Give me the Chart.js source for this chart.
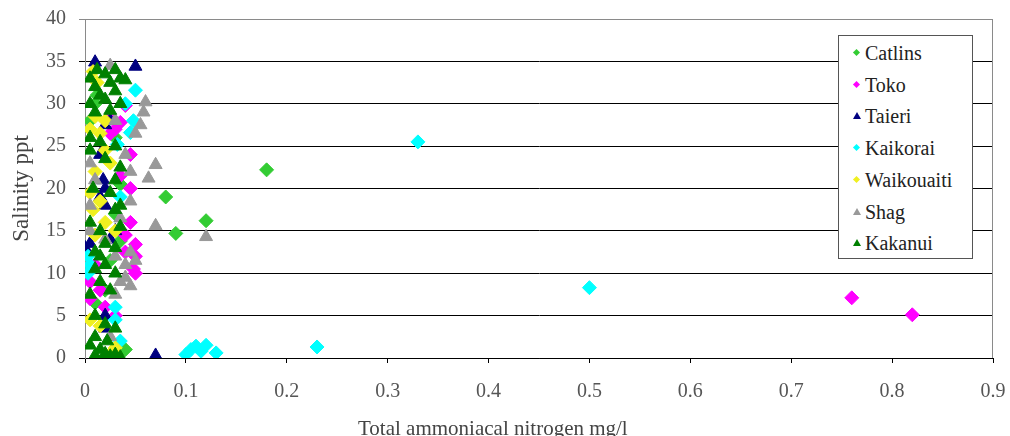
<!DOCTYPE html>
<html>
<head>
<meta charset="utf-8">
<script src="https://cdn.jsdelivr.net/npm/chart.js@4/dist/chart.umd.min.js"></script>
<style>
  body { margin: 0; background: #fff; }
  #wrap { position: relative; width: 1010px; height: 436px; overflow: hidden; }
  #legend {
    position: absolute; left: 838px; top: 35px; width: 133px; height: 222px;
    border: 1px solid #555; background: #fff;
    font-family: "Liberation Serif", serif; font-size: 20px; color: #222;
  }
  .item { position: absolute; left: 0; height: 22px; line-height: 22px; }
  .item span { position: absolute; left: 26px; white-space: nowrap; }
  .dia { position: absolute; left: 15px; top: 8px; width: 5px; height: 5px; transform: rotate(45deg); }
  .tri { position: absolute; left: 14px; top: 7px; width: 0; height: 0;
         border-left: 4px solid transparent; border-right: 4px solid transparent; border-bottom: 7px solid; }
  #xtitle { position: absolute; left: 358px; top: 416px; white-space: nowrap;
            font-family: "Liberation Serif", serif; font-size: 21px; color: #444; line-height: 24px; }
</style>
</head>
<body>
<div id="wrap">
  <canvas id="c" width="1010" height="436"></canvas>
  <div id="legend"></div>
  <div id="xtitle">Total ammoniacal nitrogen mg/l</div>
</div>
<script>
// series names, colours, marker types
var names = ['Catlins', 'Toko', 'Taieri', 'Kaikorai', 'Waikouaiti', 'Shag', 'Kakanui'];
var colours = ['#33cc33', '#ff00ff', '#000080', '#00ffff', '#f0f020', '#999999', '#008000'];
var shapes = ['dia', 'dia', 'tri', 'dia', 'dia', 'tri', 'tri'];

// [nitrogen mg/l, salinity ppt]
var catlins = [[0.18,22.2],[0.08,19],[0.12,16.2],[0.09,14.7],[0.03,26],[0.035,20.5],[0.03,17],[0.035,13.8],
  [0.025,11.5],[0.005,28],[0.01,30],[0.012,31],[0.04,1],[0.03,0.5],[0.01,6.5],[0.02,8]];
var toko = [[0.76,7.1],[0.82,5.1],[0.05,13.4],[0.05,12],[0.048,10.5],[0.05,10],[0.04,14.5],[0.045,16],
  [0.035,27.8],[0.025,28.5],[0.03,27],[0.04,29.8],[0.045,24],[0.035,21.5],[0.045,20],[0.03,5],[0.02,6],
  [0.015,8],[0.005,9],[0.005,7],[0.01,11],[0.04,12.5],[0.025,26.5]];
var taieri = [[0.01,34.9],[0.05,34.4],[0.07,0.3],[0.02,27.5],[0.025,28],[0.018,21],[0.02,20],[0.015,19],
  [0.02,18],[0.005,13.5],[0.0,13],[0.02,5],[0.02,3.5],[0.025,14],[0.03,15],[0.015,24]];
var kaikorai = [[0.33,25.5],[0.5,8.3],[0.23,1.3],[0.1,0.4],[0.105,1.0],[0.11,1.4],[0.12,1.5],[0.13,0.6],
  [0.115,0.8],[0.05,31.6],[0.048,28],[0.045,26.6],[0.032,25.2],[0.003,12],[0.005,11],[0.003,10],
  [0.03,6],[0.03,4.5],[0.035,2],[0.04,30],[0.035,19]];
var waikouaiti = [[0.008,33.8],[0.012,32.5],[0.01,28.5],[0.02,28],[0.005,27],[0.015,26.5],[0.02,24.5],
  [0.025,23],[0.01,22],[0.005,19.5],[0.015,18.5],[0.008,17.5],[0.02,16],[0.01,14.5],[0.015,3.8],
  [0.005,4.5],[0.03,1.2],[0.025,0.5],[0.03,15]];
var shag = [[0.06,30.2],[0.058,29],[0.05,26.5],[0.07,22.8],[0.063,21.2],[0.12,14.3],[0.07,15.6],[0.005,23],
  [0.01,21],[0.005,18],[0.02,14],[0.03,12],[0.04,11],[0.035,9],[0.045,8.5],[0.03,7.5],[0.04,9.5],
  [0.025,34.5],[0.03,28],[0.04,24],[0.045,18.5],[0.035,16.5],[0.005,15],[0.045,12.5],[0.025,2.5],
  [0.05,11.5],[0.055,27.5],[0.045,22]];
var kakanui = [[0.005,33],[0.012,34],[0.02,33.5],[0.03,34],[0.035,33],[0.01,32],[0.025,32.5],[0.04,32.8],
  [0.015,31],[0.03,31.5],[0.005,30],[0.02,30.5],[0.035,30],[0.01,29],[0.025,29.2],[0.005,26],[0.015,25.5],
  [0.03,25],[0.005,24.5],[0.02,23.5],[0.035,22.5],[0.03,21],[0.008,20],[0.025,19.5],[0.035,18],[0.005,16],
  [0.015,15],[0.03,17.5],[0.02,13.5],[0.01,12.5],[0.03,13],[0.035,15.5],[0.02,11],[0.01,10.5],[0.03,10],
  [0.015,9],[0.025,8],[0.005,7.5],[0.01,5],[0.02,4],[0.01,2.5],[0.005,1.5],[0.015,1],[0.02,0.5],
  [0.025,0.2],[0.03,0.4],[0.035,0.1],[0.01,0.3],[0.022,2],[0.03,3.5],[0.015,12]];

var series = [catlins, toko, taieri, kaikorai, waikouaiti, shag, kakanui];

var xTicks = [0, 0.1, 0.2, 0.3, 0.4, 0.5, 0.6, 0.7, 0.8, 0.9];
var yTicks = [0, 5, 10, 15, 20, 25, 30, 35, 40];

var datasets = [];
for (let i = 0; i < names.length; i++) {
  datasets.push({
    label: names[i],
    data: series[i].map(function(p){ return {x: p[0], y: p[1]}; }),
    pointStyle: shapes[i] == 'dia' ? 'rectRot' : 'triangle',
    pointRadius: shapes[i] == 'dia' ? 7 : 7.5,
    backgroundColor: colours[i],
    borderColor: colours[i],
    borderWidth: 1,
    order: names.length - 1 - i
  });
}

// plot frame in grey
var frame = {
  id: 'frame',
  beforeDatasetsDraw: function(chart){
    var a = chart.chartArea, ctx = chart.ctx;
    ctx.save();
    ctx.strokeStyle = '#8a8a8a';
    ctx.lineWidth = 1;
    ctx.beginPath();
    ctx.moveTo(a.left + 0.5, a.top + 0.5);
    ctx.lineTo(a.right - 0.5, a.top + 0.5);
    ctx.lineTo(a.right - 0.5, a.bottom);
    ctx.stroke();
    ctx.restore();
  }
};

var tickFont = {family: '"Liberation Serif", serif', size: 20};
var titleFont = {family: '"Liberation Serif", serif', size: 23};

new Chart(document.getElementById('c'), {
  type: 'scatter',
  data: {datasets: datasets},
  plugins: [frame],
  options: {
    responsive: false,
    animation: false,
    devicePixelRatio: 1,
    layout: {padding: {left: 0, right: 17, top: 19, bottom: 0}},
    plugins: {legend: {display: false}, tooltip: {enabled: false}},
    scales: {
      x: {
        type: 'linear', min: 0, max: 0.9,
        afterBuildTicks: function(s){ s.ticks = xTicks.map(function(v){ return {value: v}; }); },
        afterFit: function(s){ s.height = 78; s.paddingLeft = 0; s.paddingRight = 0; },
        ticks: {font: tickFont, color: '#555', padding: 17, maxRotation: 0,
                callback: function(v){ return String(+v.toFixed(1)); }},
        grid: {drawOnChartArea: false, tickLength: 5, color: '#000'},
        border: {color: '#000'}
      },
      y: {
        type: 'linear', min: 0, max: 40,
        afterBuildTicks: function(s){ s.ticks = yTicks.map(function(v){ return {value: v}; }); },
        afterFit: function(s){ s.width = 85; s.paddingTop = 0; s.paddingBottom = 0; },
        ticks: {font: tickFont, color: '#555', padding: 13},
        grid: {tickLength: 6,
               color: function(c){ return c.tick && c.tick.value == 40 ? '#8a8a8a' : '#000'; }},
        border: {color: '#8a8a8a'},
        title: {display: true, text: 'Salinity ppt', font: titleFont, color: '#444',
                padding: {top: 8, bottom: 0}}
      }
    }
  }
});

// legend inside plot, like the original
var lg = document.getElementById('legend');
for (let i = 0; i < names.length; i++) {
  var it = document.createElement('div');
  it.className = 'item';
  it.style.top = (6 + i * 31.7) + 'px';
  var mk = document.createElement('div');
  mk.className = shapes[i];
  if (shapes[i] == 'dia') mk.style.background = colours[i];
  else mk.style.borderBottomColor = colours[i];
  it.appendChild(mk);
  var tx = document.createElement('span');
  tx.textContent = names[i];
  it.appendChild(tx);
  lg.appendChild(it);
}
</script>
</body>
</html>
